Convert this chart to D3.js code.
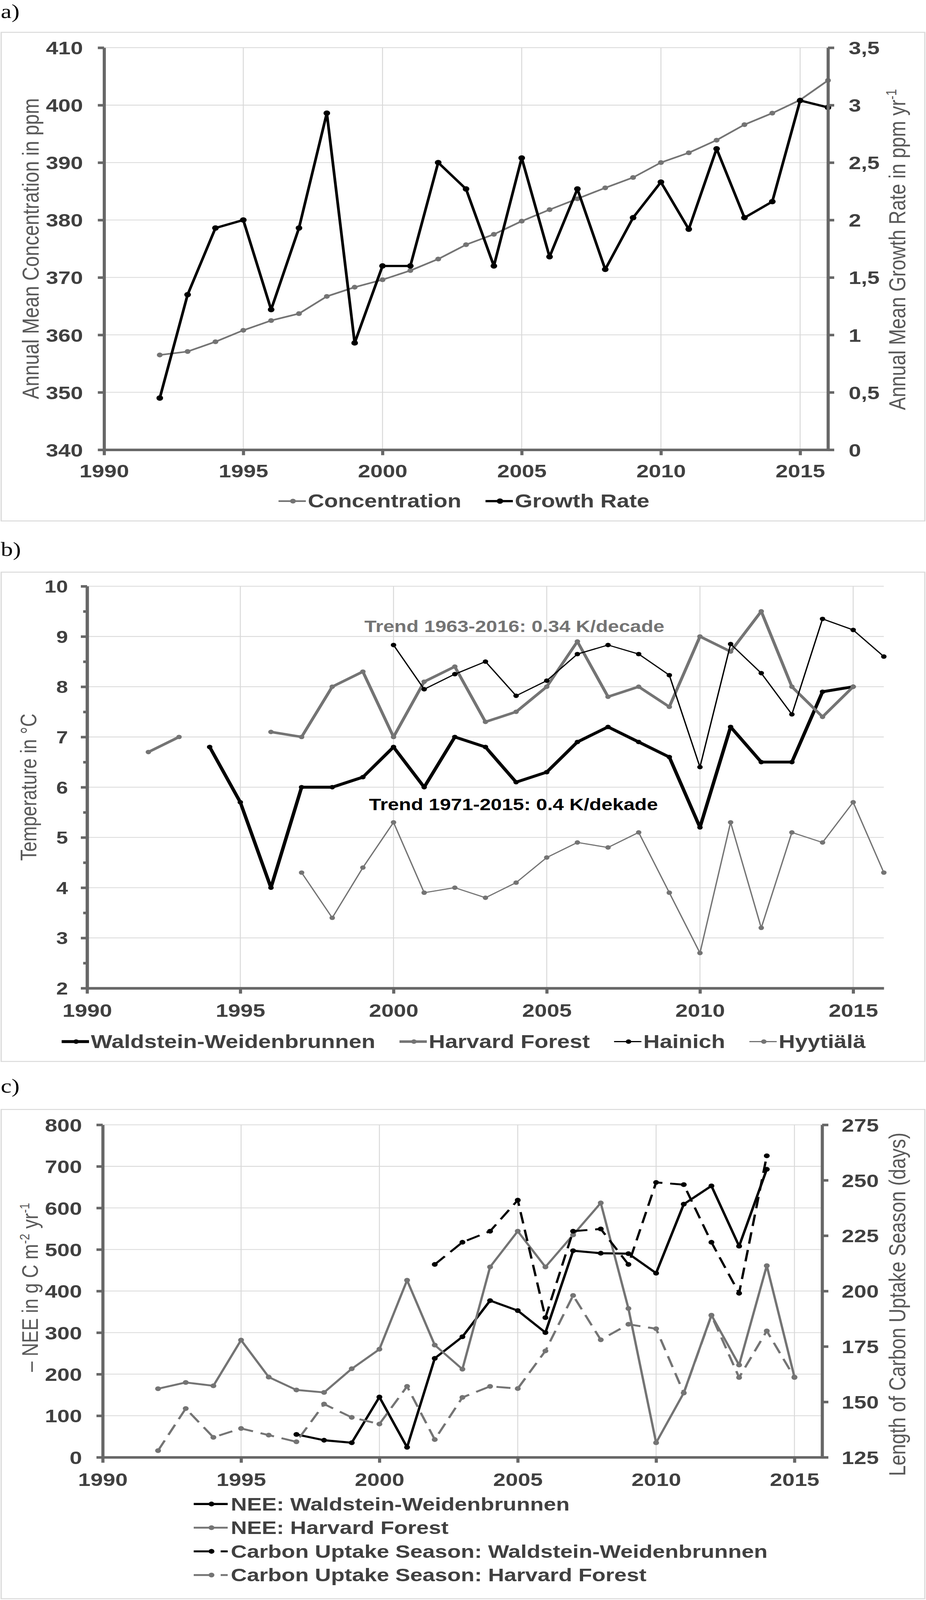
<!DOCTYPE html>
<html>
<head>
<meta charset="utf-8">
<script src="https://cdn.jsdelivr.net/npm/d3@7"></script>
<style>
  html, body { margin: 0; background: #fff; overflow: hidden; }
  svg { display: block; }
</style>
</head>
<body>
<svg id="chart"></svg>
<script>
// ---- data ----

// a) CO2 concentration and growth rate
var yearsA = [1992,1993,1994,1995,1996,1997,1998,1999,2000,2001,2002,2003,2004,
              2005,2006,2007,2008,2009,2010,2011,2012,2013,2014,2015,2016];
var concentration = [356.5,357.1,358.8,360.8,362.5,363.7,366.7,368.3,369.6,371.2,373.2,375.7,377.5,
                     379.8,381.8,383.7,385.6,387.4,390.0,391.7,393.9,396.6,398.6,400.9,404.3];
var growthRate = [0.45,1.35,1.93,2.0,1.22,1.93,2.93,0.93,1.6,1.6,2.5,2.27,1.6,
                  2.54,1.68,2.27,1.57,2.02,2.33,1.92,2.62,2.02,2.16,3.04,2.98];
var concTicks = [340,350,360,370,380,390,400,410];
var growthTicks = [0,0.5,1,1.5,2,2.5,3,3.5];
var growthTickLabels = ["0","0,5","1","1,5","2","2,5","3","3,5"];

// b) annual mean temperature
var yearsB = yearsA;
var waldsteinT = [null,null,6.8,5.7,4.0,6.0,6.0,6.2,6.8,6.0,7.0,6.8,6.1,
                  6.3,6.9,7.2,6.9,6.6,5.2,7.2,6.5,6.5,7.9,8.0,null];
var harvardT = [6.7,7.0,null,null,7.1,7.0,8.0,8.3,7.0,8.1,8.4,7.3,7.5,
                8.0,8.9,7.8,8.0,7.6,9.0,8.7,9.5,8.0,7.4,8.0,null];
var hainichT = [null,null,null,null,null,null,null,null,8.83,7.95,8.25,8.5,7.82,
                8.12,8.65,8.83,8.65,8.23,6.4,8.85,8.27,7.45,9.35,9.13,8.6];
var hyytialaT = [null,null,null,null,null,4.3,3.4,4.4,5.3,3.9,4.0,3.8,4.1,
                 4.6,4.9,4.8,5.1,3.9,2.7,5.3,3.2,5.1,4.9,5.7,4.3];
var tempTicks = [2,3,4,5,6,7,8,9,10];
var tempMinorTicks = [2.5,3.5,4.5,5.5,6.5,7.5,8.5,9.5];

// c) NEE and carbon uptake season
var yearsC = [1992,1993,1994,1995,1996,1997,1998,1999,2000,2001,2002,2003,2004,
              2005,2006,2007,2008,2009,2010,2011,2012,2013,2014,2015];
var neeWaldstein = [null,null,null,null,null,55,41,35,145,24,238,290,377,
                    353,300,497,491,490,443,609,653,508,693,null];
var neeHarvard = [165,180,172,282,193,162,156,213,260,426,270,212,458,
                  544,458,535,612,358,35,155,342,222,461,193];
var cusWaldstein = [null,null,null,null,null,null,null,null,null,null,212,222,227,
                    241,188,227,228,212,249,248,222,199,261,null];
var cusHarvard = [128,147,134,138,135,132,149,143,140,157,133,152,157,
                  156,173,198,178,185,183,154,189,161,182,161];
var neeTicks = [0,100,200,300,400,500,600,700,800];
var cusTicks = [125,150,175,200,225,250,275];

var yearTicks = [1990,1995,2000,2005,2010,2015];

// ---- look ----
var FONT = "'Liberation Sans', Arial, sans-serif";
var SERIF = "'Liberation Serif', 'Times New Roman', serif";
var AXIS = "#676767", GRID = "#d9d9d9", LABEL = "#404040", TITLE = "#595959", GRAY = "#747474";

// The figure is laid out on a 2371 x 5000 canvas; the window may be shorter,
// so the whole canvas is fitted into it.
var W = 2371, H = 5000;
var svg = d3.select("#chart")
  .attr("viewBox", "0 0 " + W + " " + H)
  .attr("preserveAspectRatio", "none")
  .attr("width", window.innerWidth || W)
  .attr("height", Math.min(window.innerHeight || H, H));

function frame(top, bottom, tag, tagBaseline) {
  svg.append("rect")
    .attr("x", 3).attr("y", top).attr("width", 2365).attr("height", bottom - top)
    .attr("fill", "none").attr("stroke", GRID).attr("stroke-width", 3);
  svg.append("text")
    .attr("x", 2).attr("y", tagBaseline)
    .style("font-family", SERIF).style("font-size", "62px")
    .text(tag);
}

function gridLines(x, y, yTicks) {
  var g = svg.append("g");
  g.selectAll(".hg").data(yTicks).enter().append("line")
    .attr("x1", x.range()[0]).attr("x2", x.range()[1])
    .attr("y1", function(d) { return y(d); }).attr("y2", function(d) { return y(d); })
    .attr("stroke", GRID).attr("stroke-width", 2.5);
  g.selectAll(".vg").data(yearTicks.slice(1)).enter().append("line")
    .attr("x1", function(d) { return x(d); }).attr("x2", function(d) { return x(d); })
    .attr("y1", y.range()[0]).attr("y2", y.range()[1])
    .attr("stroke", GRID).attr("stroke-width", 2.5);
}

function styleAxis(g, size) {
  g.attr("font-family", FONT).attr("font-size", size).attr("font-weight", "bold");
  g.select(".domain").attr("stroke", AXIS).attr("stroke-width", 8);
  g.selectAll(".tick line").attr("stroke", AXIS).attr("stroke-width", 8);
  g.selectAll(".tick text").attr("fill", LABEL);
}

function xAxis(x, yPos, labelOffset) {
  var g = svg.append("g").attr("transform", "translate(0," + yPos + ")")
    .call(d3.axisBottom(x).tickValues(yearTicks).tickFormat(d3.format("d")).tickSize(17).tickSizeOuter(0));
  styleAxis(g, 57);
  g.selectAll(".tick text").attr("y", labelOffset).attr("dy", null);
}

function yAxis(y, xPos, side, ticks, labels, labelOffset, size) {
  var ax = side == "left" ? d3.axisLeft(y) : d3.axisRight(y);
  ax.tickValues(ticks).tickSize(16).tickSizeOuter(0);
  if (labels) {
    ax.tickFormat(function(d, i) { return labels[i]; });
  } else {
    ax.tickFormat(d3.format("d"));
  }
  var g = svg.append("g").attr("transform", "translate(" + xPos + ",0)").call(ax);
  styleAxis(g, size);
  g.selectAll(".tick text")
    .attr("x", side == "left" ? -labelOffset : labelOffset)
    .attr("dy", "0.36em");
  return g;
}

// rotated axis title; parts = [[text, isSuperscript], ...]
function axisTitle(xBase, yMid, parts, size) {
  var t = svg.append("text")
    .attr("transform", "translate(" + xBase + "," + yMid + ") rotate(-90)")
    .attr("text-anchor", "middle")
    .style("font-family", FONT).style("font-size", size + "px")
    .attr("fill", TITLE);
  var raised = false;
  parts.forEach(function(p) {
    var s = t.append("tspan").text(p[0]);
    if (p[1]) {
      s.style("font-size", Math.round(size * 0.62) + "px").attr("dy", -size * 0.38);
      raised = true;
    } else if (raised) {
      s.attr("dy", size * 0.38);
      raised = false;
    }
  });
}

function drawSeries(g, x, y, years, values, opt) {
  var pts = years.map(function(yr, i) { return [yr, values[i]]; });
  var line = d3.line()
    .defined(function(d) { return d[1] != null; })
    .x(function(d) { return x(d[0]); })
    .y(function(d) { return y(d[1]); });
  g.append("path").datum(pts)
    .attr("fill", "none").attr("stroke", opt.color).attr("stroke-width", opt.width)
    .attr("stroke-linejoin", "round")
    .attr("stroke-dasharray", opt.dash || null)
    .attr("d", line);
  g.selectAll(null).data(pts.filter(function(d) { return d[1] != null; })).enter()
    .append("circle")
    .attr("cx", function(d) { return x(d[0]); })
    .attr("cy", function(d) { return y(d[1]); })
    .attr("r", opt.r).attr("fill", opt.color);
}

function legendMarker(g, x0, len, cy, opt, dash) {
  g.append("line").attr("x1", x0).attr("x2", x0 + len).attr("y1", cy).attr("y2", cy)
    .attr("stroke", opt.color).attr("stroke-width", opt.width)
    .attr("stroke-dasharray", dash || null);
  g.append("circle").attr("cx", x0 + len / 2 + 2).attr("cy", cy).attr("r", opt.r).attr("fill", opt.color);
}

// horizontal legend, centred on cx
function legendRow(items, cx, cy) {
  var g = svg.append("g");
  var markerLen = 70, pad = 5, gap = 62;
  var texts = items.map(function(it) {
    return g.append("text").attr("y", cy + 20)
      .style("font-family", FONT).style("font-size", "58px").style("font-weight", "bold")
      .attr("fill", LABEL).text(it.name);
  });
  var widths = texts.map(function(t) { return t.node().getComputedTextLength(); });
  var total = d3.sum(widths) + items.length * (markerLen + pad) + (items.length - 1) * gap;
  var xPos = cx - total / 2;
  items.forEach(function(it, i) {
    legendMarker(g, xPos, markerLen, cy, it, null);
    texts[i].attr("x", xPos + markerLen + pad);
    xPos += markerLen + pad + widths[i] + gap;
  });
}

// vertical legend, left aligned; dashed entries show "long dash, gap, short dash"
function legendColumn(items, x0, cy0, step) {
  var g = svg.append("g");
  items.forEach(function(it, i) {
    var cy = cy0 + i * step;
    legendMarker(g, x0, 87, cy, it, it.dash ? "49,20" : null);
    g.append("text").attr("x", x0 + 95).attr("y", cy + 20)
      .style("font-family", FONT).style("font-size", "57px").style("font-weight", "bold")
      .attr("fill", LABEL).text(it.name);
  });
}

// ================= panel a =================
frame(101, 1628, "a)", 56);
var xA = d3.scaleLinear().domain([1990, 2016]).range([266.5, 2120]);
var yA = d3.scaleLinear().domain([340, 410]).range([1405.5, 149]);
var yA2 = d3.scaleLinear().domain([0, 3.5]).range([1405.5, 149]);
gridLines(xA, yA, concTicks);

var styleConc = { name: "Concentration", color: GRAY, width: 5, r: 7.5 };
var styleGrowth = { name: "Growth Rate", color: "#000", width: 7, r: 8.5 };
var gA = svg.append("g");
drawSeries(gA, xA, yA, yearsA, concentration, styleConc);
drawSeries(gA, xA, yA2, yearsA, growthRate, styleGrowth);

yAxis(yA, xA(1990), "left", concTicks, null, 54, 57);
yAxis(yA2, xA(2016), "right", growthTicks, growthTickLabels, 53, 57);
xAxis(xA, yA(340), 86);
axisTitle(99, 777, [["Annual Mean Concentration in ppm"]], 60);
axisTitle(2318, 780, [["Annual Mean Growth Rate in ppm yr"], ["-1", true]], 60);
legendRow([styleConc, styleGrowth], 1188, 1566);

// ================= panel b =================
frame(1788, 3317, "b)", 1737);
var xB = d3.scaleLinear().domain([1990, 2016]).range([223, 2263]);
var yB = d3.scaleLinear().domain([2, 10]).range([3088, 1832]);
gridLines(xB, yB, tempTicks);

var styleWald = { name: "Waldstein-Weidenbrunnen", color: "#000", width: 9, r: 7 };
var styleHarv = { name: "Harvard Forest", color: GRAY, width: 8, r: 7 };
var styleHain = { name: "Hainich", color: "#000", width: 3.5, r: 7 };
var styleHyyt = { name: "Hyytiälä", color: GRAY, width: 3.5, r: 7 };
var gB = svg.append("g");
drawSeries(gB, xB, yB, yearsB, waldsteinT, styleWald);
drawSeries(gB, xB, yB, yearsB, harvardT, styleHarv);
drawSeries(gB, xB, yB, yearsB, hainichT, styleHain);
drawSeries(gB, xB, yB, yearsB, hyytialaT, styleHyyt);

// minor ticks on the temperature axis
var minor = svg.append("g").attr("transform", "translate(" + xB(1990) + ",0)")
  .call(d3.axisLeft(yB).tickValues(tempMinorTicks).tickSize(10).tickSizeOuter(0).tickFormat(""));
styleAxis(minor, 56);
yAxis(yB, xB(1990), "left", tempTicks, null, 49, 54);
xAxis(xB, yB(2), 89);
axisTitle(93, 2460, [["Temperature in °C"]], 57);

svg.append("text").attr("x", xB(1999.05)).attr("y", yB(9.2) + 18)
  .style("font-family", FONT).style("font-size", "51px").style("font-weight", "bold")
  .attr("fill", GRAY).text("Trend 1963-2016: 0.34 K/decade");
svg.append("text").attr("x", xB(1999.2)).attr("y", yB(5.66) + 18)
  .style("font-family", FONT).style("font-size", "51px").style("font-weight", "bold")
  .attr("fill", "#000").text("Trend 1971-2015: 0.4 K/dekade");

legendRow([styleWald, styleHarv, styleHain, styleHyyt], 1187, 3255);

// ================= panel c =================
frame(3467, 4996, "c)", 3414);
var xC = d3.scaleLinear().domain([1990, 2016]).range([263, 2105]);
var yC = d3.scaleLinear().domain([0, 800]).range([4554, 3515]);
var yC2 = d3.scaleLinear().domain([125, 275]).range([4554, 3515]);
gridLines(xC, yC, neeTicks);

var styleNeeW = { name: "NEE: Waldstein-Weidenbrunnen", color: "#000", width: 6.5, r: 7.5 };
var styleNeeH = { name: "NEE: Harvard Forest", color: GRAY, width: 6, r: 7.5 };
var styleCusW = { name: "Carbon Uptake Season: Waldstein-Weidenbrunnen", color: "#000", width: 6, r: 7.5, dash: "36,20" };
var styleCusH = { name: "Carbon Uptake Season: Harvard Forest", color: GRAY, width: 6, r: 7.5, dash: "36,20" };
var gC = svg.append("g");
drawSeries(gC, xC, yC, yearsC, neeWaldstein, styleNeeW);
drawSeries(gC, xC, yC, yearsC, neeHarvard, styleNeeH);
drawSeries(gC, xC, yC2, yearsC, cusWaldstein, styleCusW);
drawSeries(gC, xC, yC2, yearsC, cusHarvard, styleCusH);

yAxis(yC, xC(1990), "left", neeTicks, null, 53, 57);
yAxis(yC2, xC(2016), "right", cusTicks, null, 50, 57);
xAxis(xC, yC(0), 89);
axisTitle(97, 4023, [["– NEE in g C m"], ["-2", true], [" yr"], ["-1", true]], 58);
axisTitle(2318, 4076, [["Length of Carbon Uptake Season (days)"]], 60);
legendColumn([styleNeeW, styleNeeH, styleCusW, styleCusH], 496, 4700, 74);
</script>
</body>
</html>
